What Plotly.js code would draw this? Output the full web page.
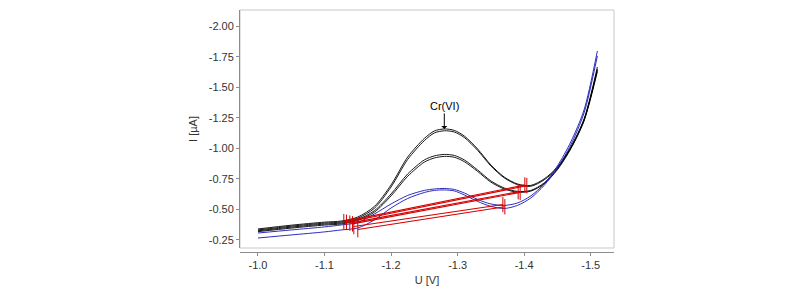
<!DOCTYPE html>
<html>
<head>
<meta charset="utf-8">
<script src="https://cdn.plot.ly/plotly-3.0.1.min.js"></script>
<style>
  html, body { margin: 0; padding: 0; background: #fff; }
  #chart { width: 800px; height: 292px; }
</style>
</head>
<body>
<div id="chart"></div>
<script>
// Potential scan (V) shared by all voltammograms
const potential = [-1.00, -1.05, -1.10, -1.125, -1.15, -1.175, -1.20, -1.225, -1.25, -1.265, -1.28,
                   -1.295, -1.31, -1.33, -1.35, -1.37, -1.39, -1.41, -1.43, -1.45, -1.47, -1.49, -1.51];

// Sample voltammograms (current, µA) – highest Cr(VI) addition
const sampleHighA = [-0.340, -0.371, -0.396, -0.405, -0.438, -0.525, -0.701, -0.930, -1.082, -1.143, -1.160,
                     -1.148, -1.102, -0.996, -0.865, -0.766, -0.709, -0.697, -0.750, -0.848, -1.012, -1.242, -1.668];
const sampleHighB = [-0.332, -0.363, -0.388, -0.397, -0.428, -0.510, -0.684, -0.910, -1.064, -1.127, -1.145,
                     -1.135, -1.090, -0.985, -0.856, -0.759, -0.703, -0.690, -0.742, -0.840, -1.003, -1.232, -1.650];
// Sample voltammograms – middle addition
const sampleMidA = [-0.325, -0.355, -0.380, -0.389, -0.418, -0.490, -0.627, -0.791, -0.906, -0.939, -0.951,
                    -0.943, -0.906, -0.824, -0.734, -0.676, -0.648, -0.656, -0.717, -0.832, -1.004, -1.234, -1.643];
const sampleMidB = [-0.318, -0.347, -0.372, -0.381, -0.410, -0.478, -0.611, -0.772, -0.888, -0.922, -0.935,
                    -0.928, -0.892, -0.812, -0.724, -0.668, -0.641, -0.650, -0.710, -0.826, -0.996, -1.225, -1.630];
// Sample voltammograms – original sample
const sampleBaseA = [-0.307, -0.332, -0.357, -0.373, -0.393, -0.463, -0.545, -0.615, -0.656, -0.668, -0.672,
                     -0.664, -0.635, -0.582, -0.545, -0.533, -0.553, -0.611, -0.709, -0.857, -1.053, -1.316, -1.799];
const sampleBaseB = [-0.266, -0.291, -0.316, -0.332, -0.348, -0.414, -0.512, -0.590, -0.639, -0.656, -0.660,
                     -0.652, -0.619, -0.566, -0.525, -0.508, -0.533, -0.594, -0.697, -0.840, -1.029, -1.291, -1.758];

// Peak baselines: [start potential, end potential] and [start current, end current]
const baselineU = [
  [-1.129, -1.401], [-1.133, -1.404],
  [-1.138, -1.391], [-1.142, -1.394],
  [-1.144, -1.368], [-1.150, -1.371]
];
const baselineI = [
  [-0.400, -0.701], [-0.395, -0.695],
  [-0.388, -0.645], [-0.382, -0.640],
  [-0.360, -0.541], [-0.335, -0.522]
];

// Axis ticks and labels
const xTicks = [-1.0, -1.1, -1.2, -1.3, -1.4, -1.5];
const xTickText = ['-1.0', '-1.1', '-1.2', '-1.3', '-1.4', '-1.5'];
const yTicks = [-0.25, -0.50, -0.75, -1.00, -1.25, -1.50, -1.75, -2.00];
const yTickText = ['-0.25', '-0.50', '-0.75', '-1.00', '-1.25', '-1.50', '-1.75', '-2.00'];
const peakLabel = 'Cr(VI)';
const peakU = -1.28;
const peakI = -1.160;

const BLACK = '#000000';
const BLUE = '#1414b4';
const RED = '#d40000';

function curve(y, color) {
  return {
    x: potential, y: y, type: 'scatter', mode: 'lines',
    line: { color: color, width: 0.9, shape: 'spline', smoothing: 0.8 },
    hoverinfo: 'skip', showlegend: false
  };
}

const traces = [
  curve(sampleHighA, BLACK), curve(sampleHighB, BLACK),
  curve(sampleMidA, BLACK), curve(sampleMidB, BLACK),
  curve(sampleBaseA, BLUE), curve(sampleBaseB, BLUE)
];

baselineU.forEach(function (u, i) {
  traces.push({
    x: u, y: baselineI[i], type: 'scatter', mode: 'lines+markers',
    line: { color: RED, width: 1.1 },
    marker: { symbol: 'line-ns-open', size: 11, line: { color: RED, width: 1 } },
    hoverinfo: 'skip', showlegend: false
  });
});

const FONT = 'Liberation Sans, Arial, sans-serif';
const plotBottomGap = 4 / 242;

const layout = {
  width: 800, height: 292,
  margin: { l: 240, r: 186, t: 10, b: 40, pad: 0 },
  paper_bgcolor: '#ffffff', plot_bgcolor: '#ffffff',
  font: { family: FONT, size: 11, color: '#333333' },
  showlegend: false,
  xaxis: {
    range: [-0.973, -1.535],
    tickvals: xTicks, ticktext: xTickText,
    anchor: 'free', position: 0,
    showline: true, linecolor: '#8c8c8c', linewidth: 1,
    ticks: 'outside', ticklen: 3, tickcolor: '#8c8c8c',
    showgrid: false, zeroline: false,
    tickfont: { family: FONT, size: 11, color: '#333333' },
    title: { text: 'U [V]', font: { family: FONT, size: 11, color: '#333333' }, standoff: 6 }
  },
  yaxis: {
    range: [-0.184, -2.135],
    domain: [plotBottomGap, 1],
    tickvals: yTicks, ticktext: yTickText,
    showline: true, linecolor: '#8c8c8c', linewidth: 1,
    ticks: 'outside', ticklen: 3, tickcolor: '#8c8c8c',
    showgrid: false, zeroline: false,
    tickfont: { family: FONT, size: 11, color: '#333333' },
    title: { text: 'I [µA]', font: { family: FONT, size: 11, color: '#333333' }, standoff: 8 }
  },
  shapes: [{
    type: 'rect', xref: 'paper', yref: 'paper',
    x0: 0, x1: 1, y0: plotBottomGap, y1: 1,
    line: { color: '#c8c8c8', width: 1 }, fillcolor: 'rgba(0,0,0,0)', layer: 'below'
  }],
  annotations: [{
    x: peakU, y: peakI, xref: 'x', yref: 'y',
    text: peakLabel, showarrow: true,
    ax: 0, ay: -23,
    arrowhead: 1, arrowsize: 1, arrowwidth: 1, arrowcolor: '#000000',
    font: { family: FONT, size: 11, color: '#000000' }
  }]
};

Plotly.newPlot('chart', traces, layout, { displayModeBar: false, staticPlot: true });
</script>
</body>
</html>
